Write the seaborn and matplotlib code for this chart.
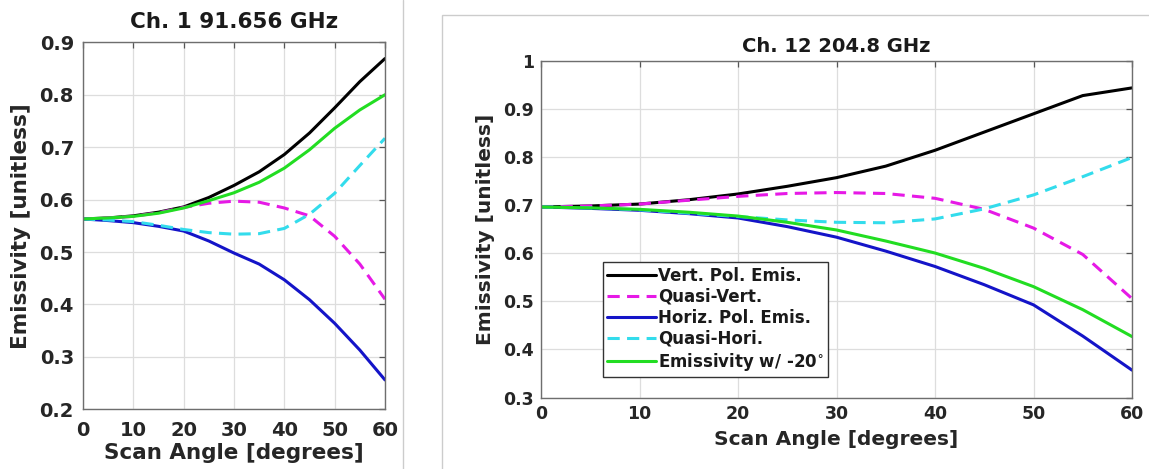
import numpy as np
import pandas as pd
import seaborn as sns
import matplotlib
matplotlib.use("Agg")
import matplotlib.pyplot as plt
from matplotlib.lines import Line2D
from matplotlib.patches import Rectangle

# ---------------- data ----------------
angles = [0, 5, 10, 15, 20, 25, 30, 35, 40, 45, 50, 55, 60]

# Ch. 1 91.656 GHz
ch1_vert = [0.563, 0.565, 0.569, 0.576, 0.586, 0.604, 0.627, 0.653, 0.686, 0.727, 0.775, 0.825, 0.869]
ch1_qvert = [0.563, 0.565, 0.568, 0.575, 0.585, 0.593, 0.597, 0.595, 0.584, 0.569, 0.530, 0.477, 0.410]
ch1_horiz = [0.563, 0.560, 0.556, 0.549, 0.540, 0.521, 0.498, 0.477, 0.447, 0.409, 0.364, 0.313, 0.256]
ch1_qhori = [0.563, 0.561, 0.558, 0.551, 0.543, 0.537, 0.534, 0.535, 0.545, 0.572, 0.612, 0.665, 0.717]
ch1_em20 = [0.563, 0.565, 0.568, 0.574, 0.584, 0.598, 0.613, 0.633, 0.660, 0.695, 0.736, 0.771, 0.800]

# Ch. 12 204.8 GHz
ch12_vert = [0.697, 0.699, 0.703, 0.712, 0.724, 0.740, 0.758, 0.782, 0.815, 0.853, 0.891, 0.929, 0.945]
ch12_qvert = [0.697, 0.699, 0.703, 0.711, 0.719, 0.725, 0.727, 0.725, 0.715, 0.692, 0.653, 0.598, 0.506]
ch12_horiz = [0.697, 0.694, 0.690, 0.683, 0.674, 0.656, 0.634, 0.605, 0.573, 0.535, 0.493, 0.428, 0.357]
ch12_qhori = [0.697, 0.695, 0.691, 0.684, 0.677, 0.670, 0.665, 0.664, 0.672, 0.693, 0.722, 0.760, 0.800]
ch12_em20 = [0.697, 0.695, 0.692, 0.686, 0.678, 0.665, 0.649, 0.626, 0.601, 0.569, 0.531, 0.483, 0.427]

series_names = ["Vert. Pol. Emis.", "Quasi-Vert.", "Horiz. Pol. Emis.", "Quasi-Hori.",
                "Emissivity w/ -20$^{\\circ}$"]
colors = ["#000000", "#e619e6", "#1414c8", "#33dcec", "#22dd22"]
dashed = [False, True, False, True, False]

# ---------------- style ----------------
sns.set_theme(style="whitegrid")
plt.rcParams["font.family"] = ["DejaVu Sans"]
plt.rcParams["font.weight"] = "bold"
plt.rcParams["axes.labelweight"] = "bold"
plt.rcParams["axes.titleweight"] = "bold"

fig = plt.figure(figsize=(11.49, 4.69), dpi=100)
W, H = 1149, 469

def px_axes(l, t, r, b):
    return fig.add_axes([l / W, 1 - b / H, (r - l) / W, (b - t) / H])

ax1 = px_axes(83, 42.3, 385, 409.3)
ax2 = px_axes(541, 61.5, 1132, 397.5)

def draw(ax, data_list, ylim, yticks, title, tfs, lfs, tickfs, xpad, ypad, tpad, xlpad,
         legend=False):
    for name, vals, c, d in zip(series_names, data_list, colors, dashed):
        df = pd.DataFrame({"angle": angles, "emis": vals})
        kw = dict(linestyle=(0, (4, 2.4))) if d else {}
        sns.lineplot(data=df, x="angle", y="emis", ax=ax, color=c, lw=2.2,
                     label=name if legend else None, **kw)
    ax.set_xlim(0, 60)
    ax.set_ylim(*ylim)
    ax.set_xticks(range(0, 61, 10))
    ax.set_yticks(yticks)
    ax.set_yticklabels([("%g" % v) for v in yticks])
    ax.grid(True, color="#dddddd", lw=0.9)
    ax.set_facecolor("white")
    for s in ax.spines.values():
        s.set_visible(True)
        s.set_color("#6e6e6e")
        s.set_linewidth(1.0)
    ax.tick_params(direction="in", length=4, width=0.9, color="#555555",
                   top=True, right=True, labelsize=tickfs, labelcolor="#262626")
    ax.tick_params(axis="x", pad=xpad)
    ax.tick_params(axis="y", pad=ypad)
    for lab in ax.get_xticklabels() + ax.get_yticklabels():
        lab.set_fontweight("bold")
    ax.set_title(title, fontsize=tfs, fontweight="bold", color="#1a1a1a", pad=tpad)
    ax.set_xlabel("Scan Angle [degrees]", fontsize=lfs, fontweight="bold", color="#262626",
                  labelpad=xlpad)
    ax.set_ylabel("Emissivity [unitless]", fontsize=lfs, fontweight="bold", color="#262626",
                  labelpad=6)

draw(ax1, [ch1_vert, ch1_qvert, ch1_horiz, ch1_qhori, ch1_em20], (0.2, 0.9),
     [0.2, 0.3, 0.4, 0.5, 0.6, 0.7, 0.8, 0.9], "Ch. 1 91.656 GHz", 15.5, 15.5, 14,
     xpad=8.5, ypad=6.5, tpad=10, xlpad=2)
draw(ax2, [ch12_vert, ch12_qvert, ch12_horiz, ch12_qhori, ch12_em20], (0.3, 1.0),
     [0.3, 0.4, 0.5, 0.6, 0.7, 0.8, 0.9, 1.0], "Ch. 12 204.8 GHz", 14, 14.5, 12.5,
     xpad=5.5, ypad=5, tpad=7, xlpad=5, legend=True)

leg = ax2.legend(loc="lower left", bbox_to_anchor=(0.105, 0.062), fontsize=12,
                 handlelength=2.9, handletextpad=0.15, labelspacing=0.18,
                 borderpad=0.25, borderaxespad=0, frameon=True, fancybox=False,
                 framealpha=1, edgecolor="#333333")
leg.get_frame().set_linewidth(1.0)
for t in leg.get_texts():
    t.set_fontweight("bold")
    t.set_color("#1a1a1a")

# panel separators
fig.add_artist(Line2D([403 / W, 403 / W], [0, 1], transform=fig.transFigure,
                      color="#cccccc", lw=1))
fig.add_artist(Rectangle((442 / W, -0.05), 0.7, 1 - 15 / H + 0.05, transform=fig.transFigure,
                         fill=False, edgecolor="#cccccc", lw=1))

fig.savefig("out.png", dpi=100, facecolor="white")
